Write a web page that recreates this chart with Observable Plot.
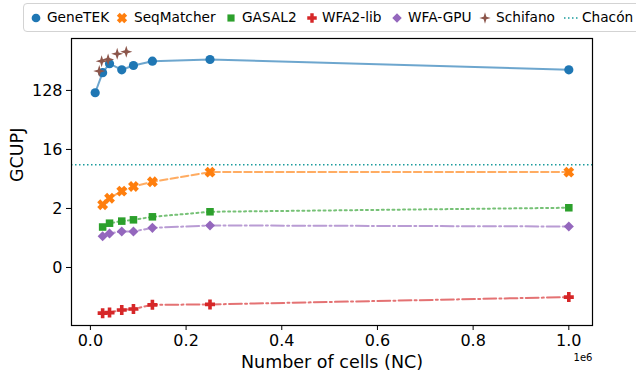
<!DOCTYPE html>
<html><head><meta charset="utf-8">
<script src="https://cdn.jsdelivr.net/npm/d3@7"></script>
<script src="https://cdn.jsdelivr.net/npm/@observablehq/plot@0.6"></script>
<style>
body{margin:0;background:#fff;font-family:"DejaVu Sans",sans-serif;}
#wrap{position:relative;width:636px;height:374px;overflow:hidden;}
#legend{position:absolute;left:23px;top:3px;width:640px;height:27px;border:1px solid #d3d3d3;border-radius:4px;background:#fff;font-size:13.7px;color:#000;}
.li{position:absolute;top:0;height:27px;line-height:27px;white-space:nowrap;}
.li svg{position:absolute;top:7px;}
</style></head><body><div id="wrap"><div id="legend"></div><div id="chart"></div></div>
<script>
// ---- data ----
const cells = [10000, 25600, 40000, 65536, 90000, 129600, 250000, 1000000];
const cellsSub = [25600, 40000, 65536, 90000, 129600, 250000, 1000000];
const geneTEK = [118, 239, 328, 265, 308, 359, 381, 265];
const seqMatcher = [2.28, 2.87, 3.68, 4.34, 5.12, 7.2, 7.2];
const gasal2 = [1.04, 1.19, 1.28, 1.34, 1.49, 1.78, 2.05];
const wfa2lib = [0.050, 0.051, 0.056, 0.058, 0.067, 0.068, 0.088];
const wfaGPU = [0.75, 0.83, 0.89, 0.89, 1.01, 1.10, 1.06];
const schifanoCells = [18500, 23500, 37000, 56000, 75000];
const schifano = [253, 359, 381, 465, 500];
const chacon = 9.3;
const xTicks = [0, 200000, 400000, 600000, 800000, 1000000];
const xTickLabels = ["0.0", "0.2", "0.4", "0.6", "0.8", "1.0"];
const yTicks = [0.25, 2, 16, 128];
const yTickLabels = ["0", "2", "16", "128"];

// ---- marker shapes ----
const rOf = s => Math.sqrt(s / Math.PI);
function poly(ctx, pts) { ctx.moveTo(pts[0][0], pts[0][1]); for (let i = 1; i < pts.length; i++) ctx.lineTo(pts[i][0], pts[i][1]); ctx.closePath(); }
const plusPts = (r, t) => [[-t,-r],[t,-r],[t,-t],[r,-t],[r,t],[t,t],[t,r],[-t,r],[-t,t],[-r,t],[-r,-t],[-t,-t]];
const symCircle = {draw(ctx, s){ const r = rOf(s); ctx.moveTo(r,0); ctx.arc(0,0,r,0,2*Math.PI); }};
const symX = {draw(ctx, s){ const r = rOf(s); const c = Math.SQRT1_2; poly(ctx, plusPts(r*1.15, r*0.45).map(([x,y]) => [c*(x-y), c*(x+y)])); }};
const symSquare = {draw(ctx, s){ const r = rOf(s)*0.82; ctx.rect(-r,-r,2*r,2*r); }};
const symPlus = {draw(ctx, s){ const r = rOf(s); poly(ctx, plusPts(r, r*0.36)); }};
const symDiamond = {draw(ctx, s){ const r = rOf(s)*1.05; poly(ctx, [[0,-r],[r,0],[0,r],[-r,0]]); }};
const symStar = {draw(ctx, s){ const r = rOf(s); const t = r*0.24; poly(ctx, [[0,-r],[t,-t],[r,0],[t,t],[0,r],[-t,t],[-r,0],[-t,-t]]); }};

const series = [
  {name: "GeneTEK", xs: cells, ys: geneTEK, color: "#1f77b4", sym: symCircle, r: 4.6, dash: null, line: true},
  {name: "SeqMatcher", xs: cellsSub, ys: seqMatcher, color: "#ff7f0e", sym: symX, r: 4.8, dash: "7.4,3.2", line: true},
  {name: "GASAL2", xs: cellsSub, ys: gasal2, color: "#2ca02c", sym: symSquare, r: 4.6, dash: "2,3.3", line: true},
  {name: "WFA2-lib", xs: cellsSub, ys: wfa2lib, color: "#d62728", sym: symPlus, r: 5, dash: "12.8,3.2,2,3.2", line: true},
  {name: "WFA-GPU", xs: cellsSub, ys: wfaGPU, color: "#9467bd", sym: symDiamond, r: 4.8, dash: "12.8,3.2,2,3.2", line: true},
  {name: "Schifano", xs: schifanoCells, ys: schifano, color: "#8c564b", sym: symStar, r: 6, dash: null, line: false}
];
const chaconColor = "#1a9c9c";

const marks = [
  Plot.ruleY([chacon], {stroke: chaconColor, strokeWidth: 1.5, strokeDasharray: "1.5,2.5"})
];
for (const s of series) {
  const rows = s.xs.map((x, i) => ({x, y: s.ys[i]}));
  if (s.line) marks.push(Plot.line(rows, {x: "x", y: "y", stroke: s.color, strokeWidth: 2, strokeOpacity: 0.65, strokeDasharray: s.dash}));
  marks.push(Plot.dot(rows, {x: "x", y: "y", fill: s.color, stroke: "none", symbol: s.sym, r: s.r}));
}
marks.push(
  Plot.frame({stroke: "black", strokeWidth: 1.2}),
  Plot.axisX({ticks: xTicks, tickFormat: d => xTickLabels[xTicks.indexOf(d)], tickSize: 5, tickPadding: 4, fontSize: 16, label: null}),
  Plot.axisY({ticks: yTicks, tickFormat: d => yTickLabels[yTicks.indexOf(d)], tickSize: 5, tickPadding: 4, fontSize: 16, label: null}),
  Plot.text(["Number of cells (NC)"], {frameAnchor: "bottom", dy: 37, fontSize: 17.5, lineAnchor: "middle"}),
  Plot.text(["GCUPJ"], {frameAnchor: "left", dx: -54, rotate: -90, fontSize: 17.5, lineAnchor: "middle"}),
  Plot.text(["1e6"], {frameAnchor: "bottom-right", dy: 32, fontSize: 10, textAnchor: "end", lineAnchor: "middle"})
);

const chart = Plot.plot({
  width: 636, height: 374,
  marginLeft: 71, marginRight: 44, marginTop: 38, marginBottom: 49,
  style: {fontFamily: "DejaVu Sans", color: "black", background: "white", fontSize: "16px"},
  x: {domain: [-39500, 1049500]},
  y: {type: "log", base: 2, domain: [Math.pow(2, -4.95), Math.pow(2, 9.64)]},
  marks
});
document.getElementById("chart").appendChild(chart);

// ---- legend ----
const legend = document.getElementById("legend");
const markerX = [12, 98, 207, 288, 373, 461, 547];
const textX = [23, 110, 218, 298, 384, 472, 558];
const items = series.map(s => ({name: s.name, color: s.color, sym: s.sym, r: s.r})).concat([{name: "Chacón", color: chaconColor, sym: null}]);
items.forEach((it, i) => {
  const d = document.createElement("div");
  d.className = "li";
  d.style.left = (markerX[i] - 7) + "px";
  d.style.width = "90px";
  const ns = "http://www.w3.org/2000/svg";
  const svg = document.createElementNS(ns, "svg");
  svg.setAttribute("width", 14); svg.setAttribute("height", 14);
  svg.style.left = "0px";
  if (it.sym) {
    const p = document.createElementNS(ns, "path");
    p.setAttribute("d", d3.symbol(it.sym, it.r * it.r * Math.PI * 0.9)());
    p.setAttribute("transform", "translate(7,7)");
    p.setAttribute("fill", it.color);
    svg.appendChild(p);
  } else {
    const l = document.createElementNS(ns, "line");
    l.setAttribute("x1", 0); l.setAttribute("x2", 14); l.setAttribute("y1", 7); l.setAttribute("y2", 7);
    l.setAttribute("stroke", it.color); l.setAttribute("stroke-width", 1.5); l.setAttribute("stroke-dasharray", "1.5,2.5");
    svg.appendChild(l);
  }
  d.appendChild(svg);
  const t = document.createElement("span");
  t.textContent = it.name;
  t.style.position = "absolute";
  t.style.left = (textX[i] - markerX[i] + 7) + "px";
  d.appendChild(t);
  legend.appendChild(d);
});
</script></body></html>
